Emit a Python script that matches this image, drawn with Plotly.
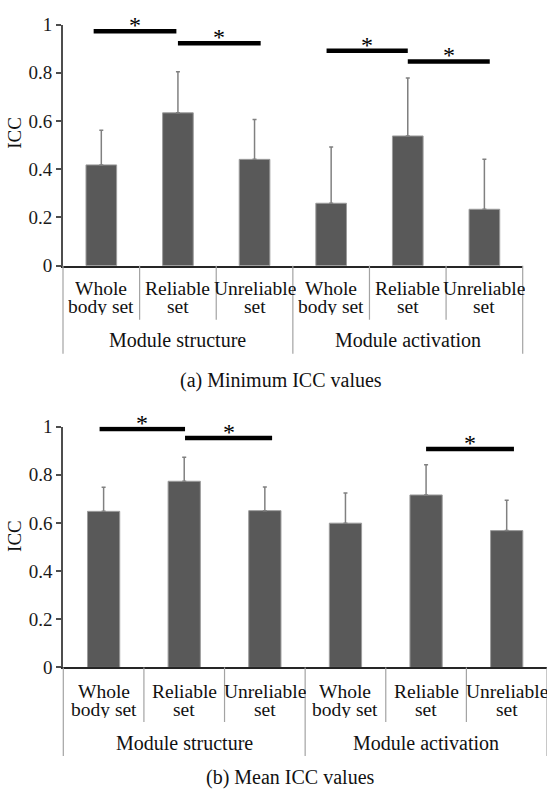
import plotly.graph_objects as go

# ---- data ----
categories = ["Whole<br>body set", "Reliable<br>set", "Unreliable<br>set"] * 2
groups = ["Module structure", "Module activation"]
y_ticks = [0, 0.2, 0.4, 0.6, 0.8, 1]

min_icc = [0.418, 0.634, 0.441, 0.259, 0.538, 0.234]
min_sd = [0.144, 0.170, 0.165, 0.233, 0.241, 0.207]

mean_icc = [0.648, 0.773, 0.651, 0.599, 0.716, 0.568]
mean_sd = [0.100, 0.100, 0.098, 0.125, 0.126, 0.126]

# significance brackets: (start, end, level)
min_sig = [(-0.1, 0.98, 0.972), (1.0, 2.08, 0.923), (2.94, 4.0, 0.892), (4.0, 5.07, 0.847)]
mean_sig = [(-0.05, 1.01, 0.99), (1.01, 2.09, 0.953), (4.0, 5.09, 0.907)]

captions = ["(a) Minimum ICC values", "(b) Mean ICC values"]

# ---- layout geometry ----
W, H = 547, 807
FONT = "Liberation Serif"
BAR = "#595959"
DIV = "#a3a3a3"


def py(p):
    """pixel row -> paper y"""
    return 1 - p / H


def px(p):
    return p / W


panels = [
    dict(vals=min_icc, sd=min_sd, sig=min_sig, xdom=(63, 522.7), ytop=15, y0=262.5,
         line1=285.7, line2=304, grp=338.5, sub_bot=318, grp_bot=353,
         cap=captions[0], cap_x=281, cap_y=380, icc_y=126),
    dict(vals=mean_icc, sd=mean_sd, sig=mean_sig, xdom=(63.3, 547.4), ytop=427.7, y0=675,
         line1=699.7, line2=718, grp=753, sub_bot=731, grp_bot=766,
         cap=captions[1], cap_x=290, cap_y=788, icc_y=540),
]

fig = go.Figure()
shapes, annotations = [], []
layout_axes = {}
x = list(range(len(categories)))

for k, p in enumerate(panels):
    sfx = "" if k == 0 else str(k + 1)
    xa, ya = "x" + sfx, "y" + sfx
    fig.add_trace(go.Bar(
        x=x, y=p["vals"], xaxis=xa, yaxis=ya, width=0.4,
        marker=dict(color=BAR, line=dict(color="#9c9c9c", width=1)),
        error_y=dict(type="data", array=p["sd"], arrayminus=[0] * len(x), symmetric=False,
                     color="#808080", thickness=1.5, width=2),
        showlegend=False,
    ))
    x0p, x1p = px(p["xdom"][0]), min(1.0, px(p["xdom"][1]))
    layout_axes["xaxis" + sfx] = dict(
        domain=[x0p, x1p], range=[-0.5, 5.5], anchor=ya, showline=True,
        linecolor="#262626", linewidth=2, showticklabels=False, ticks="",
        showgrid=False, zeroline=False, fixedrange=True)
    layout_axes["yaxis" + sfx] = dict(
        domain=[py(p["y0"]), py(p["ytop"])], range=[0, 1], anchor=xa,
        tickvals=y_ticks, ticktext=[f"{v:g}" for v in y_ticks],
        ticks="outside", ticklen=5, tickwidth=1.5, tickcolor="#4d4d4d",
        showline=True, linecolor="#4d4d4d", linewidth=2, showgrid=False,
        zeroline=False, tickfont=dict(family=FONT, size=19, color="#1a1a1a"))

    def xp(v, x0p=x0p, x1p=x1p):
        return x0p + (v + 0.5) / 6 * (x1p - x0p)

    ybase = py(p["y0"])
    # category dividers below the axis
    for b in [0.5, 1.5, 3.5, 4.5]:
        shapes.append(dict(type="line", xref="paper", yref="paper", x0=xp(b), x1=xp(b),
                           y0=ybase, y1=py(p["sub_bot"]), line=dict(color=DIV, width=1.2)))
    for b in [-0.5, 2.5, 5.5]:
        shapes.append(dict(type="line", xref="paper", yref="paper", x0=xp(b), x1=xp(b),
                           y0=ybase, y1=py(p["grp_bot"]), line=dict(color=DIV, width=1.2)))
    # category labels (two rows each)
    for i, c in enumerate(categories):
        for txt, row in zip(c.split("<br>"), [p["line1"], p["line2"]]):
            annotations.append(dict(xref="paper", yref="paper", x=xp(i), y=py(row),
                                    text=txt, showarrow=False, xanchor="center",
                                    yanchor="middle", height=18, borderpad=0,
                                    font=dict(family=FONT, size=19.5, color="#111")))
    for g, gname in enumerate(groups):
        annotations.append(dict(xref="paper", yref="paper", x=xp(3 * g + 1), y=py(p["grp"]),
                                text=gname, showarrow=False, xanchor="center",
                                yanchor="middle", font=dict(family=FONT, size=20, color="#111")))
    # significance brackets
    for s0, s1, lvl in p["sig"]:
        shapes.append(dict(type="line", xref=xa, yref=ya, x0=s0, x1=s1, y0=lvl, y1=lvl,
                           line=dict(color="#000", width=4.5)))
        annotations.append(dict(xref=xa, yref=ya, x=(s0 + s1) / 2, y=lvl, text="*",
                                showarrow=False, xanchor="center", yanchor="bottom",
                                yshift=-9, font=dict(family=FONT, size=24, color="#000")))
    # axis title
    annotations.append(dict(xref="paper", yref="paper", x=px(15), y=py(p["icc_y"]),
                            text="ICC", textangle=-90, showarrow=False,
                            xanchor="center", yanchor="middle",
                            font=dict(family=FONT, size=19, color="#111")))
    # panel caption
    annotations.append(dict(xref="paper", yref="paper", x=px(p["cap_x"]), y=py(p["cap_y"]),
                            text=p["cap"], showarrow=False, xanchor="center",
                            yanchor="middle", font=dict(family=FONT, size=20, color="#111")))

fig.update_layout(
    width=W, height=H, margin=dict(l=0, r=0, t=0, b=0),
    paper_bgcolor="white", plot_bgcolor="white",
    shapes=shapes, annotations=annotations, bargap=0.6,
    **layout_axes,
)

fig.write_html("out.html")
